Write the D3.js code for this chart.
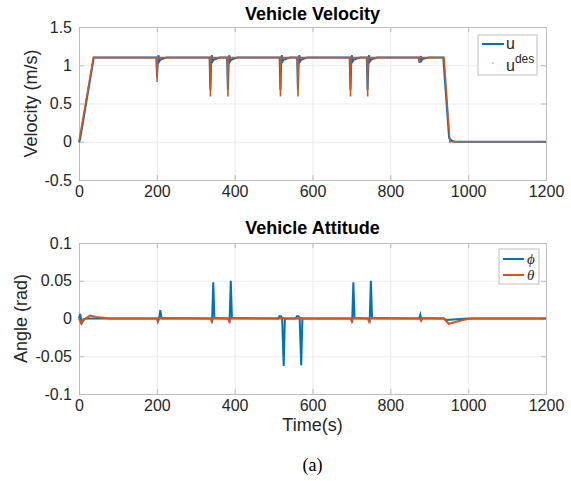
<!DOCTYPE html>
<html>
<head>
<meta charset="utf-8">
<script src="https://cdn.jsdelivr.net/npm/d3@7"></script>
<style>
  body { margin: 0; background: #fff; }
  text { font-family: "Liberation Sans", Arial, sans-serif; }
</style>
</head>
<body>
<script>
// ---- data (breakpoints) ----
var xTicks = [0, 200, 400, 600, 800, 1000, 1200];
var velTicks = [-0.5, 0, 0.5, 1, 1.5];
var velTickLabels = ["-0.5", "0", "0.5", "1", "1.5"];
var angTicks = [-0.1, -0.05, 0, 0.05, 0.1];
var angTickLabels = ["-0.1", "-0.05", "0", "0.05", "0.1"];

var uTime = [0, 3, 38,
  198.5, 200.5, 203, 204.5, 206, 208.5, 215, 225,
  335.5, 337.5, 340, 341.5, 343, 345.5, 352, 362,
  380.5, 382.5, 385, 386.5, 388, 390.5, 397, 407,
  515.5, 517.5, 520, 521.5, 523, 525.5, 532, 542,
  560.5, 562.5, 565, 566.5, 568, 570.5, 577, 587,
  695.5, 697.5, 700, 701.5, 703, 705.5, 712, 722,
  739.5, 741.5, 744, 745.5, 747, 749.5, 756, 766,
  872.5, 874.5, 877, 878.5, 880, 882.5, 889, 899,
  936, 951, 954, 960, 966, 1200];
var uVal = [-0.01, 0.04, 1.1,
  1.1, 0.85, 1.1, 1.13, 1.05, 1.07, 1.085, 1.1,
  1.1, 0.68, 1.1, 1.13, 1.05, 1.07, 1.085, 1.1,
  1.1, 0.68, 1.1, 1.13, 1.05, 1.07, 1.085, 1.1,
  1.1, 0.68, 1.1, 1.13, 1.05, 1.07, 1.085, 1.1,
  1.1, 0.68, 1.1, 1.13, 1.05, 1.07, 1.085, 1.1,
  1.1, 0.68, 1.1, 1.13, 1.05, 1.07, 1.085, 1.1,
  1.1, 0.68, 1.1, 1.13, 1.05, 1.07, 1.085, 1.1,
  1.1, 1.04, 1.1, 1.12, 1.06, 1.08, 1.09, 1.1,
  1.1, 0.05, 0.03, 0.01, 0, 0];

var uDesTime = [0, 37,
  200, 200.7, 201.5,
  337, 337.7, 338.5,
  382, 382.7, 383.5,
  517, 517.7, 518.5,
  562, 562.7, 563.5,
  697, 697.7, 698.5,
  741, 741.7, 742.5,
  874, 874.7, 875.5,
  938, 953, 1200];
var uDesVal = [0, 1.1,
  1.1, 0.78, 1.1,
  1.1, 0.59, 1.1,
  1.1, 0.59, 1.1,
  1.1, 0.59, 1.1,
  1.1, 0.59, 1.1,
  1.1, 0.59, 1.1,
  1.1, 0.59, 1.1,
  1.1, 1.03, 1.1,
  1.1, 0, 0];

var phiTime = [0, 3, 7, 12, 20,
  201, 203, 206, 209, 212,
  340, 342, 345, 348,
  385, 387, 390, 393,
  512, 515, 519, 522, 526, 529,
  557, 560, 564, 567, 571, 574,
  700, 702, 705, 708,
  745, 747, 750, 753,
  874, 877, 880, 883,
  938, 945, 970, 1000, 1200];
var phiVal = [0, 0.006, -0.006, -0.001, 0,
  0, -0.004, 0, 0.011, 0,
  0, -0.002, 0.048, 0,
  0, -0.002, 0.05, 0,
  0, 0.003, 0.003, 0, -0.063, 0,
  0, 0.003, 0.003, 0, -0.062, 0,
  0, -0.002, 0.048, 0,
  0, -0.002, 0.05, 0,
  0, 0.005, -0.002, 0,
  0, -0.002, -0.001, 0, 0];

var thetaTime = [0, 5, 12, 28, 45, 80,
  200, 202, 205, 208,
  338, 341, 344, 350,
  383, 386, 389, 395,
  518, 523, 530,
  563, 568, 575,
  698, 701, 704, 710,
  742, 745, 748, 754,
  876, 879, 882, 888,
  938, 950, 965, 985, 1010, 1200];
var thetaVal = [0, -0.006, -0.002, 0.004, 0.002, 0,
  0, -0.003, 0, 0.0005,
  0, -0.004, 0, 0.0008,
  0, -0.004, 0, 0.0008,
  0, 0.001, 0,
  0, 0.001, 0,
  0, -0.004, 0, 0.0008,
  0, -0.004, 0, 0.0008,
  0, -0.003, 0, 0.0005,
  0, -0.007, -0.005, -0.002, 0, 0];

var blue = "#0072BD";
var orange = "#D95319";
var boxColor = "#bdbdbd";
var gridColor = "#ebebeb";
var textColor = "#262626";

var w = 571;
var h = 481;
var left = 79, right = 546;

var svg = d3.select("body")
            .append("svg")
            .attr("width", w)
            .attr("height", h);

var x = d3.scaleLinear().domain([0, 1200]).range([left, right]);

function zip(ts, vs) {
  return ts.map(function(t, i) { return [t, vs[i]]; });
}

function drawPanel(y, top, bottom, yTicks, yLabels, title, titleY, yLabel, yLabelX) {
  var g = svg.append("g");

  // grid
  g.append("g")
    .attr("transform", "translate(0," + bottom + ")")
    .call(d3.axisBottom(x).tickValues(xTicks).tickSize(-(bottom - top)).tickFormat(""))
    .call(function(s) { s.select(".domain").remove(); s.selectAll("line").attr("stroke", gridColor); });
  g.append("g")
    .attr("transform", "translate(" + left + ",0)")
    .call(d3.axisLeft(y).tickValues(yTicks).tickSize(-(right - left)).tickFormat(""))
    .call(function(s) { s.select(".domain").remove(); s.selectAll("line").attr("stroke", gridColor); });

  // axes with inward ticks
  var xa = g.append("g")
    .attr("transform", "translate(0," + bottom + ")")
    .call(d3.axisBottom(x).tickValues(xTicks).tickSize(-5).tickPadding(6).tickFormat(d3.format("d")));
  var ya = g.append("g")
    .attr("transform", "translate(" + left + ",0)")
    .call(d3.axisLeft(y).tickValues(yTicks).tickSize(-5).tickPadding(7)
      .tickFormat(function(d, i) { return yLabels[i]; }));
  var xt = g.append("g")
    .attr("transform", "translate(0," + top + ")")
    .call(d3.axisTop(x).tickValues(xTicks).tickSize(-5).tickFormat(""));
  var yr = g.append("g")
    .attr("transform", "translate(" + right + ",0)")
    .call(d3.axisRight(y).tickValues(yTicks).tickSize(-5).tickFormat(""));

  [xa, ya, xt, yr].forEach(function(a) {
    a.select(".domain").attr("stroke", boxColor);
    a.selectAll(".tick line").attr("stroke", boxColor);
    a.selectAll(".tick text")
      .attr("fill", textColor)
      .style("font-size", "16px")
      .style("font-family", "'Liberation Sans', Arial, sans-serif");
  });

  g.append("text")
    .attr("x", (left + right) / 2)
    .attr("y", titleY)
    .attr("text-anchor", "middle")
    .attr("font-weight", "bold")
    .attr("font-size", 18)
    .attr("fill", "#000")
    .text(title);

  g.append("text")
    .attr("transform", "translate(" + yLabelX + "," + ((top + bottom) / 2) + ") rotate(-90)")
    .attr("text-anchor", "middle")
    .attr("font-size", 18)
    .attr("fill", textColor)
    .text(yLabel);

  return g;
}

// ---- top panel: velocity ----
var yTop = d3.scaleLinear().domain([-0.5, 1.5]).range([180, 27]);
var gTop = drawPanel(yTop, 27, 180, velTicks, velTickLabels, "Vehicle Velocity", 20, "Velocity (m/s)", 37);

var lineTop = d3.line()
  .x(function(d) { return x(d[0]); })
  .y(function(d) { return yTop(d[1]); });

gTop.append("path")
  .datum(zip(uTime, uVal))
  .attr("d", lineTop)
  .attr("fill", "none")
  .attr("stroke", blue)
  .attr("stroke-width", 2);

gTop.append("path")
  .datum(zip(uDesTime, uDesVal))
  .attr("d", lineTop)
  .attr("fill", "none")
  .attr("stroke", orange)
  .attr("stroke-width", 1.6);

// legend top
var legTop = svg.append("g");
legTop.append("rect")
  .attr("x", 478).attr("y", 35).attr("width", 59).attr("height", 40)
  .attr("fill", "#fff").attr("stroke", boxColor);
legTop.append("line")
  .attr("x1", 482).attr("x2", 504).attr("y1", 44).attr("y2", 44)
  .attr("stroke", blue).attr("stroke-width", 2);
legTop.append("text")
  .attr("x", 506).attr("y", 49)
  .attr("font-size", 16).attr("fill", textColor)
  .text("u");
legTop.append("circle")
  .attr("cx", 493).attr("cy", 63).attr("r", 0.7)
  .attr("fill", orange);
var t2 = legTop.append("text")
  .attr("x", 506).attr("y", 71)
  .attr("font-size", 16).attr("fill", textColor);
t2.append("tspan").text("u");
t2.append("tspan").attr("dy", -8).attr("font-size", 12).text("des");

// ---- bottom panel: attitude ----
var yBot = d3.scaleLinear().domain([-0.1, 0.1]).range([394, 243]);
var gBot = drawPanel(yBot, 243, 394, angTicks, angTickLabels, "Vehicle Attitude", 234, "Angle (rad)", 27);

var lineBot = d3.line()
  .x(function(d) { return x(d[0]); })
  .y(function(d) { return yBot(d[1]); });

gBot.append("path")
  .datum(zip(phiTime, phiVal))
  .attr("d", lineBot)
  .attr("fill", "none")
  .attr("stroke", blue)
  .attr("stroke-width", 2);

gBot.append("path")
  .datum(zip(thetaTime, thetaVal))
  .attr("d", lineBot)
  .attr("fill", "none")
  .attr("stroke", orange)
  .attr("stroke-width", 2);

// legend bottom
var legBot = svg.append("g");
legBot.append("rect")
  .attr("x", 499).attr("y", 249).attr("width", 40).attr("height", 35)
  .attr("fill", "#fff").attr("stroke", boxColor);
[[blue, "\u03D5", 259], [orange, "\u03B8", 275]].forEach(function(r) {
  legBot.append("line")
    .attr("x1", 503).attr("x2", 524).attr("y1", r[2]).attr("y2", r[2])
    .attr("stroke", r[0]).attr("stroke-width", 2);
  legBot.append("text")
    .attr("x", 527).attr("y", r[2] + 5)
    .attr("font-size", 15)
    .attr("font-style", "italic")
    .attr("fill", textColor)
    .style("font-family", "'Liberation Serif', 'DejaVu Serif', serif")
    .text(r[1]);
});

// x axis label and caption
svg.append("text")
  .attr("x", (left + right) / 2)
  .attr("y", 431)
  .attr("text-anchor", "middle")
  .attr("font-size", 18)
  .attr("fill", textColor)
  .text("Time(s)");

svg.append("text")
  .attr("x", (left + right) / 2)
  .attr("y", 471)
  .attr("text-anchor", "middle")
  .attr("font-size", 18)
  .attr("fill", "#000")
  .style("font-family", "'Liberation Serif', 'DejaVu Serif', serif")
  .text("(a)");
</script>
</body>
</html>
